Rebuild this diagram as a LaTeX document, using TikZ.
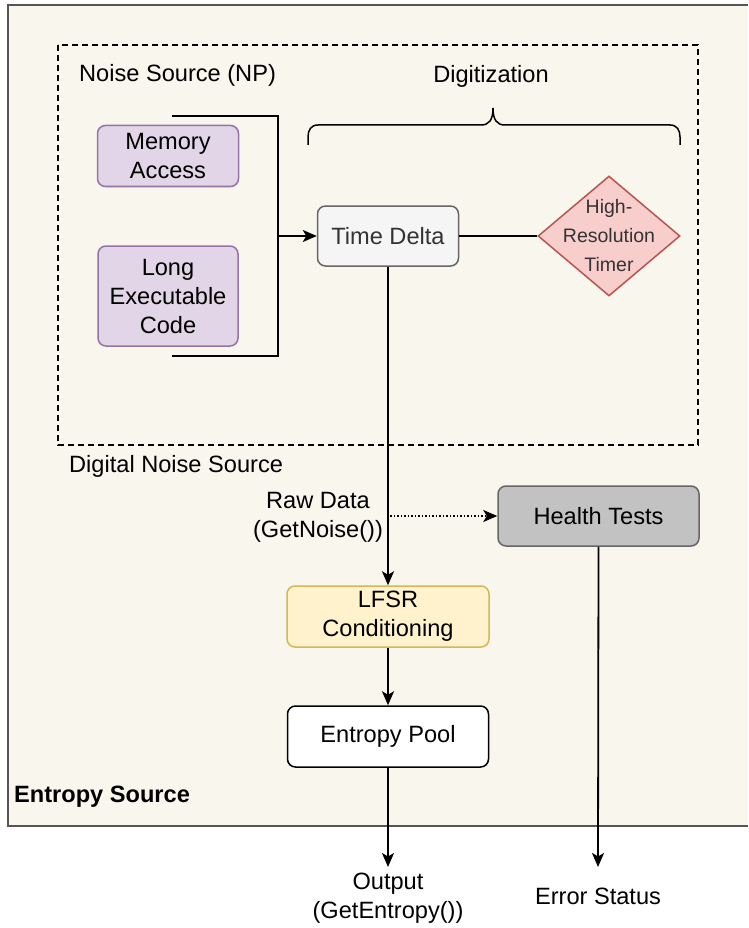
\documentclass[tikz,border=0pt]{standalone}
\usepackage{fontspec}
\setmainfont{Liberation Sans}
\usetikzlibrary{arrows.meta,shapes.geometric}
\definecolor{bgfill}{HTML}{F9F6EE}
\definecolor{bgline}{HTML}{555555}
\definecolor{purfill}{HTML}{E1D5E7}
\definecolor{purline}{HTML}{9673A6}
\definecolor{grayfill}{HTML}{F5F5F5}
\definecolor{grayline}{HTML}{666666}
\definecolor{redfill}{HTML}{F8CECC}
\definecolor{redline}{HTML}{B85450}
\definecolor{yelfill}{HTML}{FFF2CC}
\definecolor{yelline}{HTML}{D6B656}
\definecolor{htfill}{HTML}{C2C2C2}
\definecolor{textgray}{HTML}{333333}
\tikzset{
  box/.style={rectangle, rounded corners=8pt, line width=1.5pt, inner sep=0pt, align=center, font=\fontsize{23.6}{29}\selectfont},
  lbl/.style={inner sep=0pt, align=center, font=\fontsize{23.6}{29}\selectfont},
  conn/.style={line width=1.8pt, draw=black},
  tip/.style={-{Stealth[length=14pt,width=12pt,inset=3.5pt]}}
}
\begin{document}
\begin{tikzpicture}[x=1pt,y=-1pt]
\useasboundingbox (0,0) rectangle (748,928);
% background
\fill[bgfill] (8,5) rectangle (748,826);
\draw[bgline, line width=1.6pt] (748,5) -- (8,5) -- (8,826) -- (748,826);
% dashed region
\draw[line width=1.5pt, dash pattern=on 6pt off 4pt] (58,45) rectangle (698,445);
\node[lbl, anchor=west] (nslbl) at (79,75) {Noise Source (NP)};
\node[lbl] (diglbl) at (491,76) {Digitization};
\node[lbl, anchor=west] (dnslbl) at (69,466) {Digital Noise Source};
% brace
\draw[line width=1.5pt] (308,145) -- (308,137) .. controls (308,130) and (311,125) .. (318,125) -- (481,125)
  .. controls (489,125) and (493,120) .. (493,108)
  .. controls (493,120) and (497,125) .. (505,125) -- (670,125)
  .. controls (677,125) and (680,130) .. (680,137) -- (680,145);
% nodes
\node[box, fill=purfill, draw=purline, minimum width=141pt, minimum height=61pt] (mem) at (168,156) {Memory\\Access};
\node[box, fill=purfill, draw=purline, minimum width=140pt, minimum height=100pt] (code) at (168,296) {Long\\Executable\\Code};
\node[box, fill=grayfill, draw=grayline, text=textgray, minimum width=141pt, minimum height=60pt] (td) at (388,236) {Time Delta};
\node[diamond, fill=redfill, draw=redline, line width=1.5pt, minimum width=142pt, minimum height=120pt, inner sep=0pt] (hrt) at (609,236) {};
\node[lbl, font=\fontsize{19.5}{29}\selectfont, text=textgray] (hrtlbl) at (hrt.center) {High-\\Resolution\\Timer};
\node[box, fill=htfill, draw=grayline, minimum width=201pt, minimum height=60pt] (ht) at (598.5,516) {Health Tests};
\node[box, fill=yelfill, draw=yelline, minimum width=202pt, minimum height=61pt] (lfsr) at (388,616.5) {LFSR\\Conditioning};
\node[box, fill=white, draw=black, minimum width=201pt, minimum height=61pt] (pool) at (388,736.5) {Entropy Pool};
% labels
\node[lbl] (raw) at (318,517) {Raw Data\\(GetNoise())};
\node[lbl] (out) at (388,898) {Output\\(GetEntropy())};
\node[lbl] (err) at (598,896) {Error Status};
\node[lbl, anchor=west, font=\bfseries\fontsize{23.6}{29}\selectfont] (es) at (14,797) {Entropy Source};
% bracket
\coordinate (bt) at (172,116);
\coordinate (bb) at (172,356);
\coordinate (bm) at (278,236);
\draw[conn] (bt) -| (278,356) -- (bb);
\draw[conn, tip] (bm) -- (td.west);
% connectors
\draw[conn] (td.east) -- (hrt.west);
\draw[conn, tip] (td.south) -- (lfsr.north);
\coordinate (rawstart) at (390,516);
\draw[line width=1.5pt, dotted, -{Stealth[length=14pt,width=12pt,inset=3.5pt]}] (rawstart) -- (ht.west);
\draw[conn, tip] (lfsr.south) -- (pool.north);
\coordinate (outend) at (388,867);
\coordinate (errend) at (598,867);
\draw[conn, tip] (pool.south) -- (outend);
\draw[conn, tip] (ht.south) -- (errend);
\end{tikzpicture}
\end{document}
